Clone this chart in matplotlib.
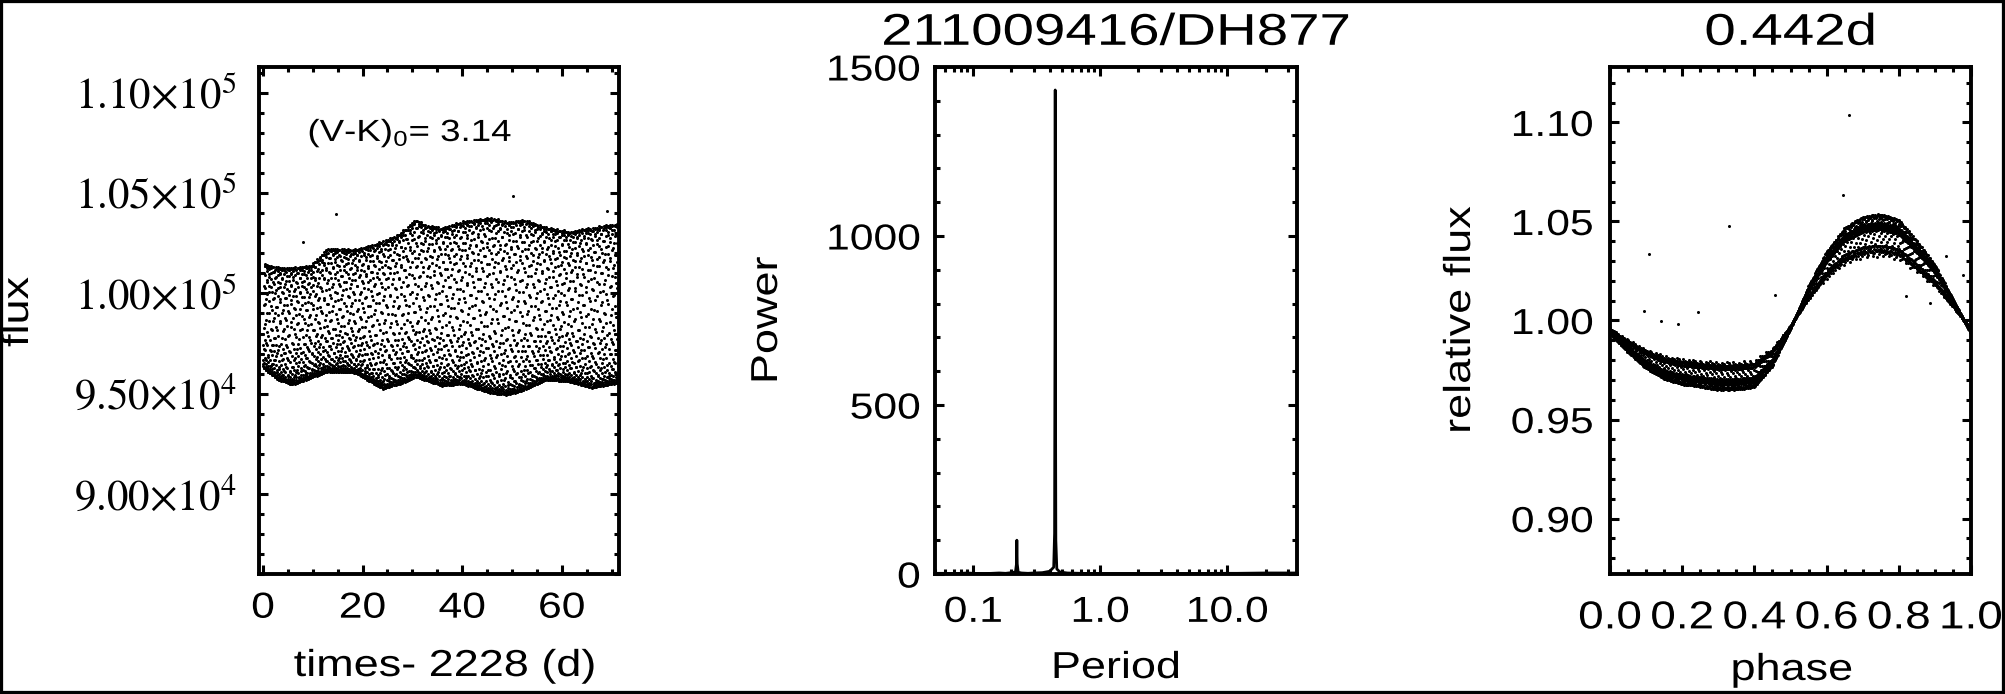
import numpy as np
import matplotlib
matplotlib.use("Agg")
import matplotlib.pyplot as plt
from matplotlib.ticker import MultipleLocator, LogLocator, NullFormatter
from matplotlib.patches import Rectangle
from matplotlib.patheffects import AbstractPathEffect
from matplotlib.transforms import Affine2D

plt.rcParams['font.family'] = ['Liberation Sans', 'DejaVu Sans']
plt.rcParams['mathtext.fontset'] = 'custom'
plt.rcParams['mathtext.rm'] = 'Liberation Sans'
plt.rcParams['mathtext.it'] = 'Liberation Sans'

# ---- values ----
period = 0.442            # days, title of right panel
cadence = 0.020434        # K2 long cadence (days)
t_start, t_end = 0.0, 71.4

# band edges of the raw light curve (left panel)
env_t = [0, 3, 6, 9.6, 13, 18.5, 24, 27.5, 30.6, 33, 36, 40, 45.5, 49, 52.6, 57, 61.6, 66, 71.4]
env_upper = [101500, 101300, 101300, 101400, 102250, 102200, 102600, 103000, 103700, 103400,
             103300, 103600, 103800, 103600, 103700, 103300, 103100, 103300, 103500]
env_lower = [96300, 95700, 95450, 95800, 96100, 96050, 95250, 95500, 95850, 95650,
             95400, 95500, 95050, 94950, 95200, 95700, 95600, 95300, 95550]

# mean phased shape (right panel)
shape_phase = [0.0, 0.05, 0.1, 0.15, 0.2, 0.25, 0.3, 0.35, 0.4, 0.45, 0.5,
               0.55, 0.6, 0.65, 0.7, 0.75, 0.8, 0.85, 0.9, 0.95, 1.0]
shape_rel = [0.995, 0.988, 0.982, 0.978, 0.976, 0.975, 0.974, 0.974, 0.975, 0.983, 0.997,
             1.013, 1.026, 1.035, 1.039, 1.040, 1.038, 1.030, 1.021, 1.008, 0.995]

# stray points
lc_out_t = [8.1, 14.6, 50.3, 69.0]
lc_out_f = [102550, 103950, 104870, 104120]
ph_out_p = [0.663, 0.646, 0.330, 0.108, 0.457, 0.094, 0.243, 0.141, 0.188, 0.820, 0.886, 0.977, 0.930]
ph_out_f = [1.1037, 1.0633, 1.0478, 1.0335, 1.0128, 1.005, 1.0044, 0.9997, 0.998, 1.0123, 1.0086, 1.023, 1.0325]

# periodogram
per = [0.05, 0.06, 0.07, 0.08, 0.09, 0.10, 0.12, 0.14, 0.16, 0.18, 0.20, 0.215, 0.219,
       0.2205, 0.222, 0.226, 0.24, 0.27, 0.30, 0.35, 0.40, 0.43, 0.437, 0.440, 0.442,
       0.444, 0.447, 0.455, 0.48, 0.55, 0.7, 1.0, 1.5, 2.0, 3.0, 5.0, 8.0, 12.0, 20.0, 35.0]
power = [2, 2, 1, 2, 3, 2, 1, 2, 3, 2, 4, 6, 30,
         100, 30, 5, 3, 2, 3, 4, 8, 20, 120, 700, 1432,
         600, 100, 15, 6, 3, 2, 1, 1, 1, 1, 1, 2, 2, 3, 3]


class Widen(AbstractPathEffect):
    """IDL's Helvetica comes out wider than Liberation Sans: stretch the glyphs."""
    def __init__(self, sx=1.2, anchor=0.5):
        super().__init__()
        self.sx = sx
        self.anchor = anchor

    def draw_path(self, renderer, gc, tpath, affine, rgbFace=None):
        ext = tpath.get_extents()
        x0 = ext.x0 + self.anchor * ext.width
        st = Affine2D().translate(-x0, 0).scale(self.sx, 1).translate(x0, 0)
        renderer.draw_path(gc, tpath, st + affine, rgbFace)


# ---- build the light curve from the read values ----
t = np.arange(t_start, t_end, cadence)
up = np.interp(t, env_t, env_upper)
lo = np.interp(t, env_t, env_lower)
ph = (t / period) % 1.0
shp = np.interp(ph, shape_phase, shape_rel)
smin, smax = min(shape_rel), max(shape_rel)
flux = lo + (up - lo) * (shp - smin) / (smax - smin)
level = lo + (up - lo) * (1.0 - smin) / (smax - smin)
rel = flux / level

W, H = 2005, 694
fig = plt.figure(figsize=(W / 100, H / 100), dpi=100)
bot, hgt = 1 - 574 / H, (574 - 67) / H
ax1 = fig.add_axes([259 / W, bot, 360 / W, hgt])
ax2 = fig.add_axes([935 / W, bot, 362 / W, hgt])
ax3 = fig.add_axes([1610 / W, bot, 361 / W, hgt])

tick_fs = 26
lab_fs = 27
for ax in (ax1, ax2, ax3):
    for sp in ax.spines.values():
        sp.set_linewidth(2.8)
    ax.tick_params(which='both', direction='in', top=True, right=True, width=2.2, labelsize=tick_fs)
    ax.tick_params(which='major', length=6.5)
    ax.tick_params(which='minor', length=3.3)

# left: raw light curve
ax1.plot(t, flux, 'o', ms=2.2, mew=0, color='black')
ax1.plot(lc_out_t, lc_out_f, 'o', ms=2.2, mew=0, color='black')
ax1.set_xlim(-0.8, 71.5)
ax1.set_ylim(86000, 111300)
ax1.xaxis.set_major_locator(MultipleLocator(20))
ax1.xaxis.set_minor_locator(MultipleLocator(5))
yt = [90000, 95000, 100000, 105000, 110000]
ylab = [r"$9.00{\times}10^{4}$", r"$9.50{\times}10^{4}$", r"$1.00{\times}10^{5}$",
        r"$1.05{\times}10^{5}$", r"$1.10{\times}10^{5}$"]
ax1.set_yticks(yt, ylab, math_fontfamily='stix', fontsize=31)
ax1.yaxis.set_minor_locator(MultipleLocator(1000))
ax1.tick_params(axis='y', pad=16)
ax1.tick_params(axis='x', pad=12)
ax1.text(9.0, 108000, r"(V-K)$_0$= 3.14", fontsize=22, ha='left', va='center',
         path_effects=[Widen(1.2, 0.0)])

# middle: periodogram
ax2.plot(per, power, color='black', lw=2.0)
ax2.set_xscale('log')
ax2.set_xlim(0.05, 35.4)
ax2.set_ylim(0, 1500)
ax2.set_xticks([0.1, 1.0, 10.0], ["0.1", "1.0", "10.0"])
ax2.xaxis.set_minor_locator(LogLocator(base=10, subs=np.arange(2, 10)))
ax2.xaxis.set_minor_formatter(NullFormatter())
ax2.yaxis.set_major_locator(MultipleLocator(500))
ax2.yaxis.set_minor_locator(MultipleLocator(100))
ax2.tick_params(axis='y', pad=10.5)
ax2.tick_params(axis='x', pad=15)
ax2.set_title("211009416/DH877", fontsize=32, pad=16, path_effects=[Widen(1.27)])

# right: phased light curve
ax3.plot(ph, rel, 'o', ms=2.2, mew=0, color='black')
ax3.plot(ph_out_p, ph_out_f, 'o', ms=2.2, mew=0, color='black')
ax3.set_xlim(0, 1)
ax3.set_ylim(0.872, 1.128)
ax3.set_xticks(np.arange(0, 1.01, 0.2), ["%.1f" % v for v in np.arange(0, 1.01, 0.2)], fontsize=28)
ax3.xaxis.set_minor_locator(MultipleLocator(0.05))
ax3.set_yticks([0.90, 0.95, 1.00, 1.05, 1.10], ["0.90", "0.95", "1.00", "1.05", "1.10"])
ax3.yaxis.set_minor_locator(MultipleLocator(0.01))
ax3.tick_params(axis='y', pad=12)
ax3.tick_params(axis='x', pad=19)
ax3.set_title("0.442d", fontsize=32, pad=16, path_effects=[Widen(1.27)])

# stretch the sans tick labels like the original
for lab in ax1.get_xticklabels() + ax2.get_xticklabels() + ax3.get_xticklabels():
    lab.set_path_effects([Widen(1.18)])
for lab in ax2.get_yticklabels() + ax3.get_yticklabels():
    lab.set_path_effects([Widen(1.18, 1.0)])

# axis labels placed like the IDL output
wide = [Widen(1.2)]
fig.text(18 / W, 1 - 312 / H, "flux", rotation=90, ha='center', va='center', fontsize=lab_fs, path_effects=wide)
fig.text(767 / W, 1 - 320 / H, "Power", rotation=90, ha='center', va='center', fontsize=lab_fs, path_effects=wide)
fig.text(1460 / W, 1 - 320 / H, "relative flux", rotation=90, ha='center', va='center', fontsize=lab_fs, path_effects=wide)
fig.text(445 / W, 1 - 666 / H, "times- 2228 (d)", ha='center', va='center', fontsize=lab_fs, path_effects=wide)
fig.text(1116 / W, 1 - 668 / H, "Period", ha='center', va='center', fontsize=lab_fs, path_effects=wide)
fig.text(1792 / W, 1 - 670 / H, "phase", ha='center', va='center', fontsize=lab_fs, path_effects=wide)

# frame round the whole picture
fig.add_artist(Rectangle((0, 0), 1, 1, transform=fig.transFigure, fill=False,
                         edgecolor='black', lw=4.5, clip_on=False))

fig.savefig("out.png", dpi=100)
